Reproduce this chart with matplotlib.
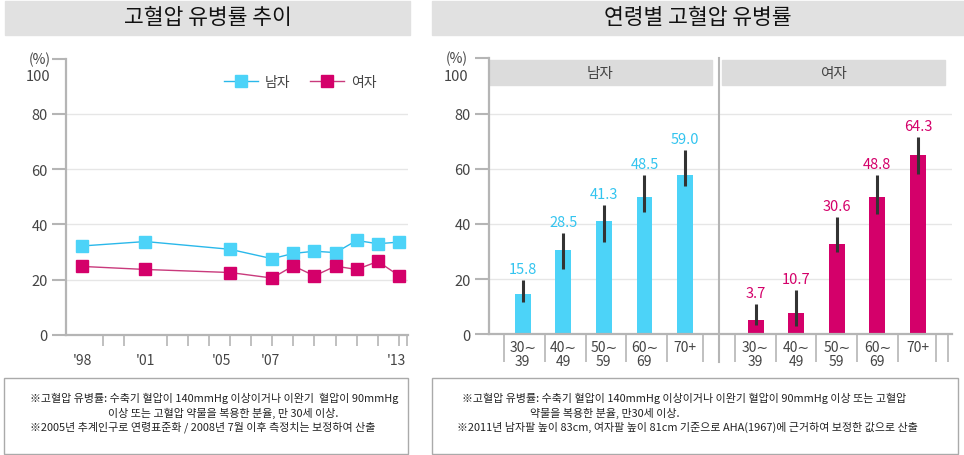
import numpy as np
import matplotlib.pyplot as plt
from matplotlib.patches import Rectangle
import matplotlib.transforms as mtransforms

plt.rcParams['font.family'] = ['Noto Sans CJK KR', 'DejaVu Sans']

# 고혈압 유병률 추이
years = [1998, 2001, 2005, 2007, 2008, 2009, 2010, 2011, 2012, 2013]
men_trend = [32.2, 33.8, 31.0, 27.6, 29.5, 30.3, 29.8, 34.2, 33.0, 33.6]
women_trend = [24.8, 23.7, 22.6, 20.6, 25.0, 21.4, 24.9, 23.7, 26.6, 21.5]
year_labels = ["'98", "'01", "'05", "'07", "'13"]
year_label_pos = [1998, 2001, 2004.6, 2006.9, 2012.9]

# 연령별 고혈압 유병률
age_groups = ['30∼\n39', '40∼\n49', '50∼\n59', '60∼\n69', '70+']
men_bar = [14.6, 30.6, 41.0, 49.7, 57.7]
men_lo = [11.6, 23.7, 33.4, 44.3, 53.7]
men_hi = [19.7, 36.8, 46.7, 57.6, 66.9]
men_text = ['15.8', '28.5', '41.3', '48.5', '59.0']
women_bar = [5.2, 7.7, 32.8, 49.9, 64.8]
women_lo = [3.4, 3.1, 29.8, 43.7, 58.2]
women_hi = [11.0, 16.2, 42.5, 57.6, 71.5]
women_text = ['3.7', '10.7', '30.6', '48.8', '64.3']

CYAN = '#4cd3f8'
CYAN_LINE = '#2ab8ea'
CYAN_TEXT = '#33c4ef'
MAG = '#d4006a'
MAG_LINE = '#c93a7c'
AXC = '#b5b5b5'
GRID = '#e6e6e6'
TXT = '#444444'

fig = plt.figure(figsize=(9.64, 4.56), dpi=100)
W, H = 964, 456


def fx(px):
    return px / W


def fy(py):
    return 1 - py / H


# title bars
for x0, x1, title in [(5, 410, '고혈압 유병률 추이'), (432, 964, '연령별 고혈압 유병률')]:
    fig.patches.append(Rectangle((fx(x0), fy(36)), fx(x1 - x0), 34 / H,
                                 transform=fig.transFigure, color='#e1e1e1', zorder=0))
    fig.text(fx((x0 + x1) / 2), fy(18), title, ha='center', va='center',
             fontsize=15.5, color='#111111')

# footnote boxes
for x0, x1 in [(4, 408), (432, 958)]:
    fig.patches.append(Rectangle((fx(x0), fy(455)), fx(x1 - x0), 76 / H,
                                 transform=fig.transFigure, fill=False,
                                 edgecolor='#aaaaaa', lw=1))

notes = [
    (214, 398, '※고혈압 유병률: 수축기 혈압이 140mmHg 이상이거나 이완기  혈압이 90mmHg'),
    (223, 413, '이상 또는 고혈압 약물을 복용한 분율, 만 30세 이상.'),
    (203, 427, '※2005년 추계인구로 연령표준화 / 2008년 7월 이후 측정치는 보정하여 산출'),
    (684, 398, '※고혈압 유병률: 수축기 혈압이 140mmHg 이상이거나 이완기 혈압이 90mmHg 이상 또는 고혈압'),
    (605, 413, '약물을 복용한 분율, 만30세 이상.'),
    (687, 427, '※2011년 남자팔 높이 83cm, 여자팔 높이 81cm 기준으로 AHA(1967)에 근거하여 보정한 값으로 산출'),
]
for x, y, s in notes:
    fig.text(fx(x), fy(y), s, ha='center', va='center', fontsize=7.9, color='#222222')


def style_y(ax):
    ax.set_ylim(0, 100)
    ax.set_yticks([0, 20, 40, 60, 80, 100])
    ax.set_yticklabels(['0', '20', '40', '60', '80', ''])
    ax.tick_params(axis='y', length=10, width=1.5, color=AXC, labelsize=10.5,
                   labelcolor=TXT, pad=3)
    for s in ['top', 'right']:
        ax.spines[s].set_visible(False)
    for s in ['left', 'bottom']:
        ax.spines[s].set_color(AXC)
        ax.spines[s].set_linewidth(1.6)
    for g in [20, 40, 60, 80]:
        ax.axhline(g, color=GRID, lw=1, zorder=0)
    tr = mtransforms.blended_transform_factory(ax.transAxes, ax.transData)
    ax.text(-0.045, 100, '(%)', transform=tr, ha='right', va='center', fontsize=10, color=TXT)
    ax.text(-0.045, 93.5, '100', transform=tr, ha='right', va='center', fontsize=10.5, color=TXT)


# left chart
ax1 = fig.add_axes([fx(66), fy(336), fx(342), (336 - 59.5) / H])
style_y(ax1)
ax1.set_xlim(1997.24, 2013.43)
ax1.plot(years, men_trend, color=CYAN_LINE, lw=1, marker='s', ms=9,
         mfc=CYAN, mec=CYAN, label='남자', zorder=3)
ax1.plot(years, women_trend, color=MAG_LINE, lw=1, marker='s', ms=9,
         mfc=MAG, mec=MAG, label='여자', zorder=3)
ax1.set_xticks(year_label_pos)
ax1.set_xticklabels(year_labels)
ax1.set_xticks(list(np.arange(1998, 2014)) + [2013.4], minor=True)
ax1.tick_params(axis='x', which='major', length=0, pad=13, labelsize=10, labelcolor=TXT)
ax1.tick_params(axis='x', which='minor', length=8, width=1.2, color=AXC)
leg = ax1.legend(loc='center left', bbox_to_anchor=(0.462, 0.914), ncol=2, frameon=False,
                 fontsize=10, handlelength=2.45, handletextpad=0.5, columnspacing=1.4,
                 borderpad=0, borderaxespad=0, markerscale=1.0)
for t in leg.get_texts():
    t.set_color(TXT)

# right chart
ax2 = fig.add_axes([fx(489), fy(335.3), fx(463), (335.3 - 59.3) / H])
style_y(ax2)
gap = 5.74
x_men = np.arange(len(age_groups))
x_women = x_men + gap
ax2.set_xlim(-0.83, 10.58)
bw = 0.39
ax2.bar(x_men, men_bar, width=bw, color=CYAN, zorder=2)
ax2.bar(x_women, women_bar, width=bw, color=MAG, zorder=2)
ax2.vlines(x_men, men_lo, men_hi, color='#333333', lw=2.2, zorder=3)
ax2.vlines(x_women, women_lo, women_hi, color='#333333', lw=2.2, zorder=3)
for x, top, s in zip(x_men, men_hi, men_text):
    ax2.text(x, top + 4, s, ha='center', va='center', fontsize=10.5, color=CYAN_TEXT)
for x, top, s in zip(x_women, women_hi, women_text):
    ax2.text(x, top + 4, s, ha='center', va='center', fontsize=10.5, color=MAG)

ax2.set_xticks(list(x_men) + list(x_women))
ax2.set_xticklabels(age_groups * 2, linespacing=1.05)
seps = list(x_men - 0.45) + [x_men[-1] + 0.45] + list(x_women - 0.5) + [x_women[-1] + 0.45, 10.48]
ax2.set_xticks(seps, minor=True)
ax2.tick_params(axis='x', which='major', length=0, pad=4, labelsize=10, labelcolor=TXT)
ax2.tick_params(axis='x', which='minor', length=20, width=1.2, color=AXC)

# divider between panels
div_x = 4.83
ax2.plot([div_x, div_x], [-10.2, 100], color=AXC, lw=1.5, clip_on=False, zorder=4)

# panel headers
for x0, x1, s in [(-0.83, 4.66, '남자'), (4.92, 10.4, '여자')]:
    ax2.add_patch(Rectangle((x0, 90.2), x1 - x0, 9.3, color='#dcdcdc', zorder=1, clip_on=False))
    ax2.text((x0 + x1) / 2, 94.8, s, ha='center', va='center', fontsize=10.5, color=TXT)

fig.savefig('out.png', dpi=100)
